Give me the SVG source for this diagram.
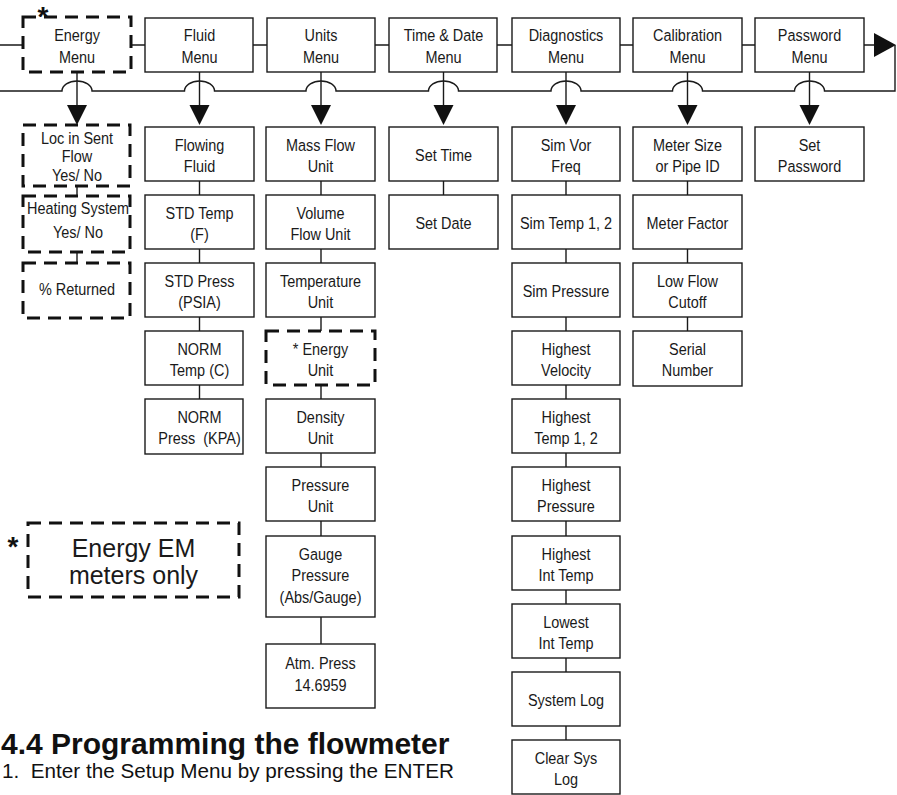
<svg xmlns="http://www.w3.org/2000/svg" width="897" height="795" viewBox="0 0 897 795">
<defs>
<style>
.b{fill:#fff;stroke:#1a1a1a;stroke-width:1.4}
.d{fill:#fff;stroke:#111;stroke-width:3;stroke-dasharray:13 8}
.c{fill:none;stroke:#1a1a1a;stroke-width:1.4}
.ah{fill:#111;stroke:none}
.t{font-family:"Liberation Sans",Arial,sans-serif;font-size:17px;fill:#1a1a1a;text-anchor:middle}
.big{font-family:"Liberation Sans",Arial,sans-serif;font-size:25px;fill:#1a1a1a;text-anchor:middle}
.ast{font-family:"Liberation Sans",Arial,sans-serif;font-size:28px;font-weight:bold;fill:#111;text-anchor:middle}
.h{font-family:"Liberation Sans",Arial,sans-serif;font-size:30px;font-weight:bold;fill:#111}
.p{font-family:"Liberation Sans",Arial,sans-serif;font-size:20.7px;fill:#111}
</style>
<path id="arw" d="M-10,0 L10,0 L0,20 Z"/>
</defs>
<rect width="897" height="795" fill="#fff"/>

<g id="connectors">
<path class="c" d="M0,45 H23 M131,45 H145 M253,45 H267 M375,45 H389 M497,45 H512 M620,45 H633 M742,45 H755 M864,45 H875"/>
<polygon class="ah" points="874,33 874,57 896,45"/>
<path class="c" d="M895,45 V91 H824.5 A15,10 0 0 0 794.5,91 H702.5 A15,10 0 0 0 672.5,91 H581 A15,10 0 0 0 551,91 H458.5 A15,10 0 0 0 428.5,91 H336 A15,10 0 0 0 306,91 H214.5 A15,10 0 0 0 184.5,91 H92 A15,10 0 0 0 62,91 H0"/>
<path class="c" d="M77,72 V106 M199.5,72 V106 M321,72 V106 M443.5,72 V106 M566,72 V106 M687.5,72 V106 M809.5,72 V106"/>
<use href="#arw" class="ah" x="77" y="105"/>
<use href="#arw" class="ah" x="199.5" y="105"/>
<use href="#arw" class="ah" x="321" y="105"/>
<use href="#arw" class="ah" x="443.5" y="105"/>
<use href="#arw" class="ah" x="566" y="105"/>
<use href="#arw" class="ah" x="687.5" y="105"/>
<use href="#arw" class="ah" x="809.5" y="105"/>
<path class="c" d="M77,186 V196 M77,252 V263"/>
<path class="c" d="M199.5,181 V195 M199.5,249 V263 M199.5,317 V331 M199.5,385 V399"/>
<path class="c" d="M321,181 V195 M321,249 V263 M321,317 V331 M321,385 V399 M321,453 V467 M321,521 V536 M321,617 V644"/>
<path class="c" d="M443.5,181 V195"/>
<path class="c" d="M566,181 V195 M566,249 V263 M566,317 V331 M566,385 V399 M566,453 V467 M566,521 V536 M566,590 V604 M566,658 V672 M566,726 V740"/>
<path class="c" d="M687.5,181 V195 M687.5,249 V263 M687.5,317 V331"/>
</g>

<text class="ast" x="43" y="25.5">*</text>
<g id="energy-menu"><rect class="d" x="23" y="17" width="108" height="55"/><text class="t" transform="translate(77 0) scale(.85 1)"><tspan x="0" y="41.5">Energy</tspan><tspan x="0" y="63.5">Menu</tspan></text></g>
<g id="fluid-menu"><rect class="b" x="145" y="18" width="108" height="54"/><text class="t" transform="translate(199.5 0) scale(.85 1)"><tspan x="0" y="41.5">Fluid</tspan><tspan x="0" y="63.5">Menu</tspan></text></g>
<g id="units-menu"><rect class="b" x="267" y="18" width="108" height="54"/><text class="t" transform="translate(321 0) scale(.85 1)"><tspan x="0" y="41.5">Units</tspan><tspan x="0" y="63.5">Menu</tspan></text></g>
<g id="time-menu"><rect class="b" x="389" y="18" width="108" height="54"/><text class="t" transform="translate(443.5 0) scale(.85 1)"><tspan x="0" y="41.5">Time &amp; Date</tspan><tspan x="0" y="63.5">Menu</tspan></text></g>
<g id="diag-menu"><rect class="b" x="512" y="18" width="108" height="54"/><text class="t" transform="translate(566 0) scale(.85 1)"><tspan x="0" y="41.5">Diagnostics</tspan><tspan x="0" y="63.5">Menu</tspan></text></g>
<g id="calib-menu"><rect class="b" x="633" y="18" width="109" height="54"/><text class="t" transform="translate(687.5 0) scale(.85 1)"><tspan x="0" y="41.5">Calibration</tspan><tspan x="0" y="63.5">Menu</tspan></text></g>
<g id="password-menu"><rect class="b" x="755" y="18" width="109" height="54"/><text class="t" transform="translate(809.5 0) scale(.85 1)"><tspan x="0" y="41.5">Password</tspan><tspan x="0" y="63.5">Menu</tspan></text></g>

<g id="loc-sent"><rect class="d" x="23" y="125" width="107" height="61"/><text class="t" transform="translate(77 0) scale(.85 1)"><tspan x="0" y="144">Loc in Sent</tspan><tspan x="0" y="162.5">Flow</tspan><tspan x="0" y="181">Yes/ No</tspan></text></g>
<g id="heating"><rect class="d" x="23" y="196" width="107" height="56"/><text class="t" transform="translate(78 0) scale(.85 1)"><tspan x="0" y="214.5">Heating System</tspan><tspan x="0" y="238">Yes/ No</tspan></text></g>
<g id="returned"><rect class="d" x="23" y="263" width="107" height="55"/><text class="t" transform="translate(77 0) scale(.85 1)"><tspan x="0" y="295">% Returned</tspan></text></g>

<g id="flowing-fluid"><rect class="b" x="145" y="127" width="109" height="54"/><text class="t" transform="translate(199.5 0) scale(.85 1)"><tspan x="0" y="151">Flowing</tspan><tspan x="0" y="172">Fluid</tspan></text></g>
<g id="std-temp"><rect class="b" x="145" y="195" width="109" height="54"/><text class="t" transform="translate(199.5 0) scale(.85 1)"><tspan x="0" y="219">STD Temp</tspan><tspan x="0" y="240">(F)</tspan></text></g>
<g id="std-press"><rect class="b" x="145" y="263" width="109" height="54"/><text class="t" transform="translate(199.5 0) scale(.85 1)"><tspan x="0" y="287">STD Press</tspan><tspan x="0" y="308">(PSIA)</tspan></text></g>
<g id="norm-temp"><rect class="b" x="145" y="331" width="98" height="54"/><text class="t" transform="translate(199.5 0) scale(.85 1)"><tspan x="0" y="355">NORM</tspan><tspan x="0" y="376">Temp (C)</tspan></text></g>
<g id="norm-press"><rect class="b" x="145" y="399" width="98" height="55"/><text class="t" transform="translate(199.5 0) scale(.85 1)"><tspan x="0" y="423">NORM</tspan><tspan x="0" y="444" xml:space="preserve">Press  (KPA)</tspan></text></g>

<g id="mass-flow"><rect class="b" x="266" y="127" width="109" height="54"/><text class="t" transform="translate(320.5 0) scale(.85 1)"><tspan x="0" y="151">Mass Flow</tspan><tspan x="0" y="172">Unit</tspan></text></g>
<g id="volume-flow"><rect class="b" x="266" y="195" width="109" height="54"/><text class="t" transform="translate(320.5 0) scale(.85 1)"><tspan x="0" y="219">Volume</tspan><tspan x="0" y="240">Flow Unit</tspan></text></g>
<g id="temp-unit"><rect class="b" x="266" y="263" width="109" height="54"/><text class="t" transform="translate(320.5 0) scale(.85 1)"><tspan x="0" y="287">Temperature</tspan><tspan x="0" y="308">Unit</tspan></text></g>
<g id="energy-unit"><rect class="d" x="266" y="331" width="109" height="54"/><text class="t" transform="translate(320.5 0) scale(.85 1)"><tspan x="0" y="355">* Energy</tspan><tspan x="0" y="376">Unit</tspan></text></g>
<g id="density-unit"><rect class="b" x="266" y="399" width="109" height="54"/><text class="t" transform="translate(320.5 0) scale(.85 1)"><tspan x="0" y="423">Density</tspan><tspan x="0" y="444">Unit</tspan></text></g>
<g id="pressure-unit"><rect class="b" x="266" y="467" width="109" height="54"/><text class="t" transform="translate(320.5 0) scale(.85 1)"><tspan x="0" y="491">Pressure</tspan><tspan x="0" y="512">Unit</tspan></text></g>
<g id="gauge-pressure"><rect class="b" x="266" y="536" width="109" height="81"/><text class="t" transform="translate(320.5 0) scale(.85 1)"><tspan x="0" y="560">Gauge</tspan><tspan x="0" y="581.5">Pressure</tspan><tspan x="0" y="603">(Abs/Gauge)</tspan></text></g>
<g id="atm-press"><rect class="b" x="266" y="644" width="109" height="64"/><text class="t" transform="translate(320.5 0) scale(.85 1)"><tspan x="0" y="669">Atm. Press</tspan><tspan x="0" y="691">14.6959</tspan></text></g>

<g id="set-time"><rect class="b" x="389" y="127" width="109" height="54"/><text class="t" transform="translate(443.5 0) scale(.85 1)"><tspan x="0" y="161">Set Time</tspan></text></g>
<g id="set-date"><rect class="b" x="389" y="195" width="109" height="54"/><text class="t" transform="translate(443.5 0) scale(.85 1)"><tspan x="0" y="229">Set Date</tspan></text></g>

<g id="sim-vor"><rect class="b" x="512" y="127" width="108" height="54"/><text class="t" transform="translate(566 0) scale(.85 1)"><tspan x="0" y="151">Sim Vor</tspan><tspan x="0" y="172">Freq</tspan></text></g>
<g id="sim-temp"><rect class="b" x="512" y="195" width="108" height="54"/><text class="t" transform="translate(566 0) scale(.85 1)"><tspan x="0" y="229">Sim Temp 1, 2</tspan></text></g>
<g id="sim-pressure"><rect class="b" x="512" y="263" width="108" height="54"/><text class="t" transform="translate(566 0) scale(.85 1)"><tspan x="0" y="297">Sim Pressure</tspan></text></g>
<g id="highest-velocity"><rect class="b" x="512" y="331" width="108" height="54"/><text class="t" transform="translate(566 0) scale(.85 1)"><tspan x="0" y="355">Highest</tspan><tspan x="0" y="376">Velocity</tspan></text></g>
<g id="highest-temp"><rect class="b" x="512" y="399" width="108" height="54"/><text class="t" transform="translate(566 0) scale(.85 1)"><tspan x="0" y="423">Highest</tspan><tspan x="0" y="444">Temp 1, 2</tspan></text></g>
<g id="highest-pressure"><rect class="b" x="512" y="467" width="108" height="54"/><text class="t" transform="translate(566 0) scale(.85 1)"><tspan x="0" y="491">Highest</tspan><tspan x="0" y="512">Pressure</tspan></text></g>
<g id="highest-int"><rect class="b" x="512" y="536" width="108" height="54"/><text class="t" transform="translate(566 0) scale(.85 1)"><tspan x="0" y="560">Highest</tspan><tspan x="0" y="581">Int Temp</tspan></text></g>
<g id="lowest-int"><rect class="b" x="512" y="604" width="108" height="54"/><text class="t" transform="translate(566 0) scale(.85 1)"><tspan x="0" y="628">Lowest</tspan><tspan x="0" y="649">Int Temp</tspan></text></g>
<g id="system-log"><rect class="b" x="512" y="672" width="108" height="54"/><text class="t" transform="translate(566 0) scale(.85 1)"><tspan x="0" y="706">System Log</tspan></text></g>
<g id="clear-log"><rect class="b" x="512" y="740" width="108" height="54"/><text class="t" transform="translate(566 0) scale(.85 1)"><tspan x="0" y="764">Clear Sys</tspan><tspan x="0" y="785">Log</tspan></text></g>

<g id="meter-size"><rect class="b" x="633" y="127" width="109" height="54"/><text class="t" transform="translate(687.5 0) scale(.85 1)"><tspan x="0" y="151">Meter Size</tspan><tspan x="0" y="172">or Pipe ID</tspan></text></g>
<g id="meter-factor"><rect class="b" x="633" y="195" width="109" height="54"/><text class="t" transform="translate(687.5 0) scale(.85 1)"><tspan x="0" y="229">Meter Factor</tspan></text></g>
<g id="low-flow"><rect class="b" x="633" y="263" width="109" height="54"/><text class="t" transform="translate(687.5 0) scale(.85 1)"><tspan x="0" y="287">Low Flow</tspan><tspan x="0" y="308">Cutoff</tspan></text></g>
<g id="serial-number"><rect class="b" x="633" y="331" width="109" height="55"/><text class="t" transform="translate(687.5 0) scale(.85 1)"><tspan x="0" y="355">Serial</tspan><tspan x="0" y="376">Number</tspan></text></g>

<g id="set-password"><rect class="b" x="755" y="127" width="109" height="54"/><text class="t" transform="translate(809.5 0) scale(.85 1)"><tspan x="0" y="151">Set</tspan><tspan x="0" y="172">Password</tspan></text></g>

<g id="legend"><text class="ast" x="13" y="555.5">*</text><rect class="d" x="28" y="523" width="211" height="74"/><text class="big"><tspan x="133.5" y="556.5">Energy EM</tspan><tspan x="133.5" y="584">meters only</tspan></text></g>

<text class="h" x="1" y="754">4.4 Programming the flowmeter</text>
<text class="p" x="2" y="778" xml:space="preserve">1.  Enter the Setup Menu by pressing the ENTER</text>
</svg>
